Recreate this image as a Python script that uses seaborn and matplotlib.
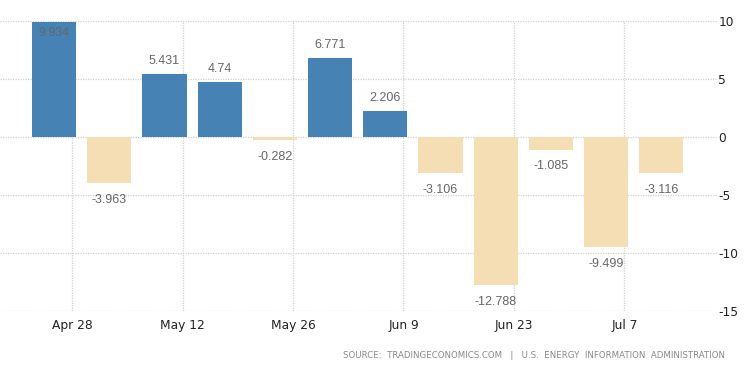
import matplotlib
matplotlib.use("Agg")
import matplotlib.pyplot as plt
import seaborn as sns
import numpy as np
import pandas as pd

values = [9.934, -3.963, 5.431, 4.74, -0.282, 6.771, 2.206, -3.106, -12.788, -1.085, -9.499, -3.116]
labels = ["9.934", "-3.963", "5.431", "4.74", "-0.282", "6.771", "2.206", "-3.106", "-12.788", "-1.085", "-9.499", "-3.116"]
tick_labels = ["Apr 28", "May 12", "May 26", "Jun 9", "Jun 23", "Jul 7"]
y_ticks = [10, 5, 0, -5, -10, -15]

sns.set_theme(style="white")
plt.rcParams['font.family'] = ['DejaVu Sans']

df = pd.DataFrame({"pos": np.arange(len(values)), "val": values,
                   "sign": ["pos" if v >= 0 else "neg" for v in values]})

fig = plt.figure(figsize=(7.5, 3.73), dpi=100)
ax = fig.add_axes([0.0, 0.166, 0.956, 0.778])

sns.barplot(data=df, x="pos", y="val", hue="sign", native_scale=True,
            palette={"pos": "#4682B4", "neg": "#F5DEB3"}, width=0.8,
            saturation=1, linewidth=0, dodge=False, legend=False, ax=ax, zorder=2)

ax.set_xlim(-0.98, 12.01)
ax.set_ylim(-15, 10)
ax.set_xlabel("")
ax.set_ylabel("")

for sp in ax.spines.values():
    sp.set_visible(False)

xt = [i * 2 + 0.33 for i in range(len(tick_labels))]
ax.set_xticks(xt)
ax.set_xticklabels(tick_labels)
ax.set_yticks(y_ticks)
ax.set_yticklabels([str(t) for t in y_ticks])
ax.yaxis.tick_right()
ax.tick_params(axis="y", length=0, pad=1, labelsize=8.8, labelcolor="#222222")
ax.tick_params(axis="x", length=0, pad=6, labelsize=8.8, labelcolor="#222222")

ax.grid(True, axis="both", linestyle=(0, (1, 1)), color="#d0d0d0", linewidth=0.9, zorder=0)
ax.set_axisbelow(True)

for i, (v, lab) in enumerate(zip(values, labels)):
    if v >= 9.5:
        off = -8.0
    elif v >= 0:
        off = 9.5
    else:
        off = -12.0
    ax.annotate(lab, (i, v), xytext=(0, off), textcoords="offset points",
                ha="center", va="center", fontsize=9, color="#666666",
                family=["Liberation Sans"], zorder=3)

fig.text(725 / 750, 1 - 355 / 373, "SOURCE:  TRADINGECONOMICS.COM   |   U.S.  ENERGY  INFORMATION  ADMINISTRATION",
         ha="right", va="center", fontsize=6.2, color="#888888")

fig.savefig("out.png", dpi=100)
